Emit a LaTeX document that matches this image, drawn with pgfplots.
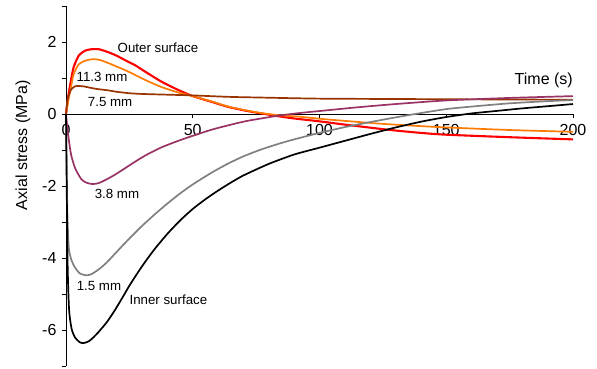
\documentclass[border=0pt]{standalone}
\usepackage{pgfplots}
\pgfplotsset{compat=1.18}
\usepackage{fontspec}
\setmainfont{Liberation Sans}
\definecolor{cRed}{RGB}{255,0,0}
\definecolor{cOrange}{RGB}{255,122,0}
\definecolor{cBrown}{RGB}{153,51,0}
\definecolor{cPurple}{RGB}{153,51,102}
\definecolor{cGray}{RGB}{128,128,128}
\begin{document}
\begin{tikzpicture}
\begin{axis}[
  scale only axis, width=507pt, height=360.5pt,
  xmin=0, xmax=200, ymin=-7, ymax=3,
  axis x line=middle, axis y line=left,
  axis line style={-, line width=0.8pt},
  hide obscured x ticks=false, hide obscured y ticks=false,
  tick align=outside,
  major tick length=4pt, minor tick length=4pt,
  tick style={black, line width=0.8pt},
  xtick={0,50,...,200},
  ytick={-6,-4,...,2},
  minor ytick={-7,-5,...,3},
  ticklabel style={font=\fontsize{16}{18}\selectfont},
  /pgf/number format/assume math mode=true,
  yticklabel style={xshift=-2pt},
  xticklabel style={yshift=-3pt},
  clip=false,
  every axis plot/.append style={line width=1.7pt, smooth, tension=0.4},
]
% Outer surface (red)
\addplot[cRed, line width=2.1pt] coordinates {
(0,0) (0.5,0.3) (1,0.55) (2,0.95) (3,1.3) (5,1.62) (7.5,1.76) (10,1.8) (13,1.8)
(16.6,1.72) (20,1.62) (24.6,1.45) (27.2,1.36) (31.2,1.18) (37.7,0.9) (44.3,0.67)
(50,0.5) (57.5,0.34) (64,0.2) (70.6,0.1) (77,0.02) (84,-0.06) (90,-0.12) (100,-0.2)
(110,-0.29) (128,-0.44) (140,-0.52) (150,-0.57) (175,-0.64) (200,-0.7)};
% 11.3 mm (orange)
\addplot[cOrange] coordinates {
(0,0) (0.5,0.2) (1,0.4) (2,0.76) (3,1.1) (5,1.38) (7.5,1.48) (10,1.52) (13,1.51)
(16.6,1.42) (20,1.32) (24.6,1.18) (31.2,0.95) (37.7,0.75) (44.3,0.6) (50,0.5)
(57.5,0.35) (64,0.21) (70.6,0.11) (77,0.03) (84,-0.03) (92,-0.07) (102,-0.14)
(125,-0.27) (147.5,-0.36) (175,-0.44) (200,-0.49)};
% 7.5 mm (brown)
\addplot[cBrown] coordinates {
(0,0) (0.5,0.35) (1,0.5) (2,0.68) (3.5,0.77) (5,0.78) (7,0.77) (9,0.74) (12,0.7)
(16.6,0.66) (20,0.62) (25,0.58) (30,0.56) (40,0.54) (50,0.52) (64,0.48) (77,0.46)
(100,0.43) (130,0.42) (160,0.41) (200,0.40)};
% 3.8 mm (purple)
\addplot[cPurple] coordinates {
(0,0) (0.5,-0.35) (1,-0.65) (2,-1.12) (3.6,-1.5) (6,-1.8) (8,-1.9) (10.5,-1.94)
(13,-1.91) (16,-1.81) (19.3,-1.68) (22,-1.56) (25.9,-1.38) (31.2,-1.15) (37.7,-0.92)
(44.3,-0.74) (50,-0.6) (57.5,-0.43) (64,-0.31) (70.6,-0.2) (77,-0.12) (84,-0.04)
(92,0.03) (102,0.1) (115,0.19) (130,0.28) (150,0.38) (175,0.45) (200,0.5)};
% 1.5 mm (gray)
\addplot[cGray] coordinates {
(0,0) (0.5,-2.6) (1.1,-3.7) (2.2,-4.06) (3.6,-4.26) (5.5,-4.42) (8,-4.47) (10,-4.44)
(13,-4.3) (16,-4.12) (20,-3.82) (25,-3.45) (30,-3.1) (35,-2.78) (40,-2.48) (45,-2.2)
(50,-1.95) (57.5,-1.62) (64,-1.37) (70,-1.17) (77,-0.98) (84,-0.82) (90,-0.7)
(100,-0.52) (110,-0.36) (120,-0.22) (130,-0.09) (140,0.03) (150,0.14) (160,0.21)
(175,0.3) (190,0.36) (200,0.39)};
% Inner surface (black)
\addplot[black] coordinates {
(0,0) (0.6,-4.0) (1.2,-5.4) (2.2,-5.95) (3.6,-6.2) (5.5,-6.33)
(7,-6.35) (9,-6.3) (11,-6.18) (13,-6.03) (16,-5.78) (19,-5.47) (22,-5.12) (25,-4.76)
(28,-4.43) (31,-4.12) (35,-3.74) (40,-3.32) (45,-2.95) (50,-2.63) (55,-2.36)
(60,-2.12) (65,-1.9) (70,-1.7) (80,-1.38) (90,-1.12) (100,-0.93) (110,-0.74)
(120,-0.55) (130,-0.37) (140,-0.21) (150,-0.08) (160,0.02) (170,0.09) (180,0.16)
(190,0.22) (200,0.28)};
\begin{scope}[every node/.style={font=\fontsize{13.3}{15}\selectfont, inner sep=0pt}]
\node at (axis cs:36.3,1.85) {Outer surface};
\node at (axis cs:14.2,1.03) {11.3 mm};
\node at (axis cs:17.4,0.33) {7.5 mm};
\node at (axis cs:20.1,-2.22) {3.8 mm};
\node at (axis cs:13.0,-4.76) {1.5 mm};
\node at (axis cs:40.4,-5.14) {Inner surface};
\end{scope}
\node[anchor=east, inner sep=0pt, font=\fontsize{16}{18}\selectfont] at (axis cs:200,0.94) {Time (s)};
\node[rotate=90, inner sep=0pt, font=\fontsize{16}{18}\selectfont] at (axis cs:-17,-0.86) {Axial stress (MPa)};
\coordinate (O) at (axis cs:0,-7);
\end{axis}
\path[use as bounding box] (O) ++(-66pt,-2.5pt) rectangle ++(597pt,369pt);
\end{tikzpicture}
\end{document}
